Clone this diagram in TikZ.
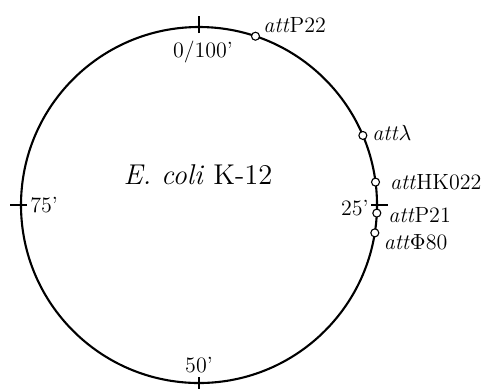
\documentclass[tikz,border=0pt]{standalone}
\usepackage{tikz}
\usetikzlibrary{positioning,calc}
\tikzset{
  chromosome/.style={draw=black, line width=1.05pt},
  mapmark/.style={draw=black, line width=1pt},
  attsite/.style={circle, draw=black, fill=white, line width=0.55pt, minimum size=4pt, inner sep=0pt},
  attlabel/.style={font=\fontsize{11}{13}\selectfont, inner sep=0pt},
  maplabel/.style={font=\fontsize{11}{13}\selectfont, inner sep=0pt},
  strain/.style={font=\fontsize{14.3}{16}\selectfont, inner sep=0pt}
}

\begin{document}
\begin{tikzpicture}[x=0.5pt, y=0.5pt]
  \useasboundingbox (0,0) rectangle (485,388);
  \coordinate (c) at (199,183);
  \draw[chromosome] (c) circle (178);

  % map positions in minutes
  \foreach \a/\m in {90/t0, 0/t25, -90/t50, 180/t75} {
    \coordinate (\m in) at ($(c)+(\a:172)$);
    \coordinate (\m out) at ($(c)+(\a:189)$);
    \draw[mapmark] (\m in) -- (\m out);
  }
  \node[maplabel, below=4pt of t0in, xshift=2pt] (l0) {0/100'};
  \node[maplabel, left=1pt of t25in, yshift=-1.5pt] (l25) {25'};
  \node[maplabel, above=2pt of t50in] (l50) {50'};
  \node[maplabel, right=1.5pt of t75in] (l75) {75'};

  % phage attachment sites
  \node[attsite] (sP22) at ($(c)+(71.5:178)$) {};
  \node[attsite] (slam) at ($(c)+(23:178)$) {};
  \node[attsite] (sHK) at ($(c)+(7.4:178)$) {};
  \node[attsite] (sP21) at ($(c)+(-2.6:178)$) {};
  \node[attsite] (sF80) at ($(c)+(-9:178)$) {};

  \node[attlabel, right=1.5pt of sP22, yshift=5.5pt] (lP22) {\textit{att}P22};
  \node[attlabel, right=2.3pt of slam, yshift=1pt] (llam) {\textit{att}$\lambda$};
  \node[attlabel, right=4.8pt of sHK] (lHK) {\textit{att}HK022};
  \node[attlabel, right=3.3pt of sP21, yshift=-1pt] (lP21) {\textit{att}P21};
  \node[attlabel, right=2pt of sF80, yshift=-4.5pt] (lF80) {\textit{att}$\Phi$80};

  \node[strain] (ecoli) at (198,213) {\textit{E. coli} K-12};
\end{tikzpicture}
\end{document}
